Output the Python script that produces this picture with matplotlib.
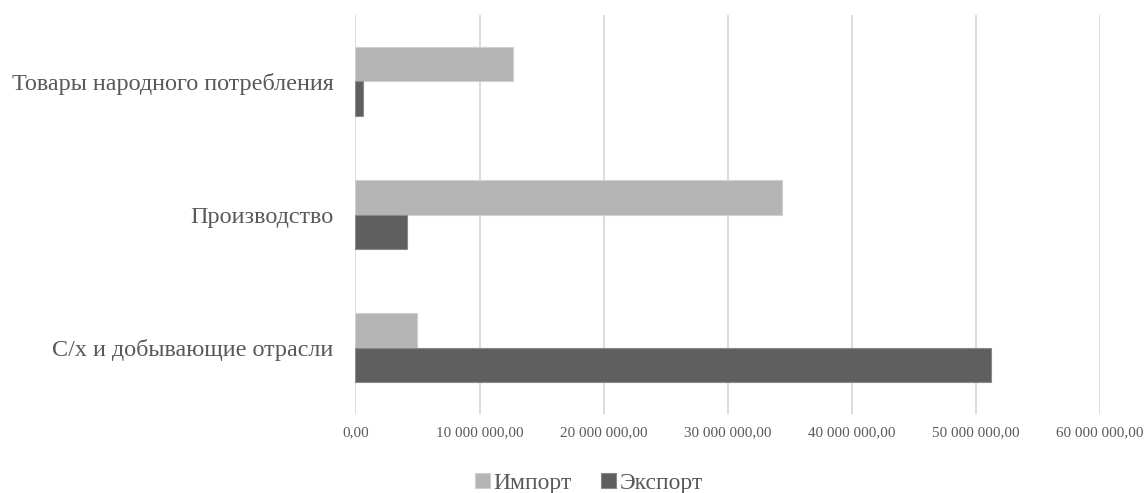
import numpy as np
import matplotlib
matplotlib.use("Agg")
import matplotlib.pyplot as plt
from matplotlib.ticker import FuncFormatter

# data (bottom to top, as drawn)
categories = ["С/х и добывающие отрасли", "Производство", "Товары народного потребления"]
import_vals = [4.97e6, 34.4e6, 12.66e6]
export_vals = [51.2e6, 4.17e6, 0.59e6]
x_ticks = [0, 10e6, 20e6, 30e6, 40e6, 50e6, 60e6]

plt.rcParams['font.family'] = ['Liberation Serif', 'DejaVu Serif']

fig = plt.figure(figsize=(11.46, 4.93), dpi=100)
ax = fig.add_axes([0.3102, 0.1602, 0.6494, 0.8094])

y = np.arange(len(categories))
h = 0.263
ax.barh(y + h / 2, import_vals, height=h, color='#b4b4b4', edgecolor='#d0d0d0',
        linewidth=0.8, label='Импорт', zorder=3)
ax.barh(y - h / 2, export_vals, height=h, color='#5f5f5f', edgecolor='#8a8a8a',
        linewidth=0.8, label='Экспорт', zorder=3)

ax.set_xlim(0, 60e6)
ax.set_ylim(-0.5, 2.5)
ax.set_xticks(x_ticks)
ax.xaxis.set_major_formatter(FuncFormatter(
    lambda v, p: f"{v:,.2f}".replace(",", " ").replace(".", ",")))
ax.set_yticks(y)
ax.set_yticklabels(categories)

ax.grid(axis='x', color='#d9d9d9', linewidth=1.3, zorder=0)
for s in ax.spines.values():
    s.set_visible(False)
ax.tick_params(axis='x', length=0, pad=9, labelsize=10.9, labelcolor='#595959')
ax.tick_params(axis='y', length=0, pad=16, labelsize=17.4, labelcolor='#595959')

fig.legend(loc='lower center', bbox_to_anchor=(0.514, -0.045), ncol=2, frameon=False,
           fontsize=17, handlelength=0.62, handleheight=0.62, handletextpad=0.15,
           columnspacing=1.26, labelcolor='#595959')

fig.savefig("out.png", dpi=100)
